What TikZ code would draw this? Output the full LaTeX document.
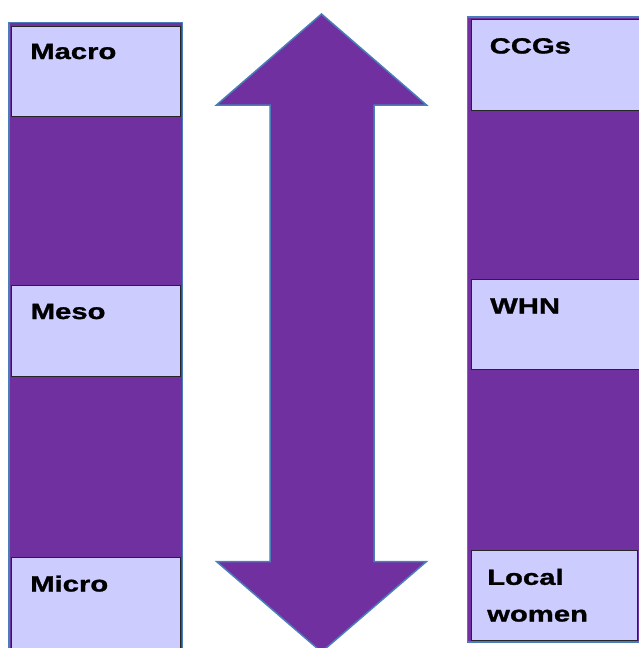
\documentclass[tikz,border=0pt]{standalone}
\usepackage{fontspec}
\usepackage{xcolor}
\usepackage{tikz}
\newfontfamily\levelfont[FakeStretch=1.33,BoldFeatures={FakeBold=1.2}]{Liberation Sans}
\definecolor{levelpurple}{HTML}{7030A0}
\definecolor{levellilac}{HTML}{CCCCFF}
\definecolor{levelblue}{HTML}{4A7EBB}

\begin{document}
\begin{tikzpicture}[x=1pt,y=-1pt,
		levelbox/.style={draw=black!85,fill=levellilac,line width=1pt},
		levelcol/.style={draw=levelblue,fill=levelpurple,line width=1.5pt},
		leveltext/.style={anchor=base west,inner sep=0pt,font=\levelfont\bfseries\fontsize{22}{36.7}\selectfont,align=left}]
		\useasboundingbox (0,0) rectangle (638,648);
		
		%left column
		\draw[levelcol] (9,22.5) rectangle (182.5,660);
		\draw[levelbox] (11.5,26) rectangle (180.5,116.5);
		\draw[levelbox] (11.5,285.5) rectangle (180.5,376.5);
		\draw[levelbox] (11.5,557.5) rectangle (180.5,660);
		\node[leveltext] (macro) at (30,59) {Macro};
		\node[leveltext] (meso) at (30.5,319) {Meso};
		\node[leveltext] (micro) at (30,591.5) {Micro};
		
		%right column
		\draw[levelcol] (467.5,17) rectangle (645,642);
		\draw[levelbox] (471,19.5) rectangle (645,110);
		\draw[levelbox] (471,279.5) rectangle (645,369.5);
		\draw[levelbox] (471,550) rectangle (637,640);
		\node[leveltext] (ccgs) at (489.5,53.5) {CCGs};
		\node[leveltext] (whn) at (490,313.5) {WHN};
		%base is the last line here
		\node[leveltext] (women) at (487,621.5) {Local\\women};
		
		%arrow
		\draw[levelcol] (321.5,14) -- (426.5,105) -- (374,105) -- (374,561.5) -- (426.5,561.5)
			-- (321.5,652) -- (216.5,561.5) -- (270,561.5) -- (270,105) -- (216.5,105) -- cycle;
		
\end{tikzpicture}
\end{document}
